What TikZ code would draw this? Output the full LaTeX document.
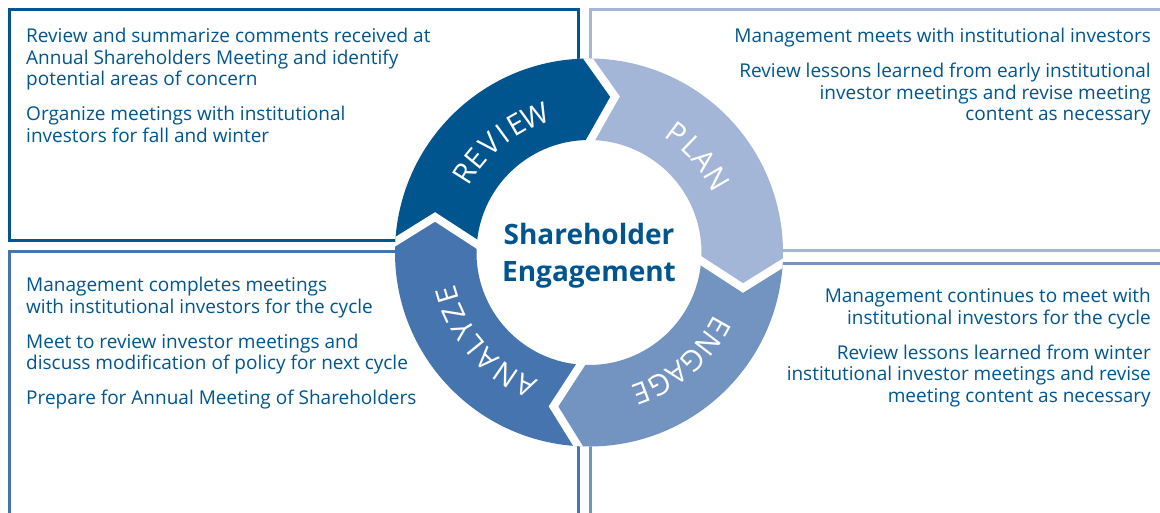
\documentclass[tikz,border=0pt]{standalone}
\usepackage{fontspec}
\setmainfont{Open Sans}

\definecolor{reviewblue}{HTML}{00558F}
\definecolor{planblue}{HTML}{A4B6D7}
\definecolor{engageblue}{HTML}{7393C1}
\definecolor{analyzeblue}{HTML}{4674AF}

\tikzset{
  frame/.style={line width=3pt},
  note/.style={text=reviewblue, font=\fontsize{19}{21.5}\selectfont, inner sep=0pt},
  ringletter/.style={text=white, font=\fontsize{29}{29}\selectfont, inner sep=0pt},
  gapline/.style={white, line width=8pt, line join=miter},
}

% one arrow piece of the ring: colour, start angle, end angle
\newcommand{\ringpart}[3]{%
  \fill[#1] (#2:194) -- (#2-11:158) -- (#2:112.5)
    arc[start angle=#2, end angle=#3, radius=112.5pt]
    -- (#3-11:158) -- (#3:194)
    arc[start angle=#3, end angle=#2, radius=194pt] -- cycle;}

\begin{document}
\begin{tikzpicture}[x=1pt, y=1pt]
    \useasboundingbox (0,0) rectangle (1160,513);

    % Frames
    \draw[frame, reviewblue] (9,503.5) rectangle (578,272.5);
    \draw[frame, analyzeblue] (578,-5) -- (578,261) -- (9,261) -- (9,-5);
    \draw[frame, planblue] (1165,503.5) -- (590,503.5) -- (590,262.5) -- (1165,262.5);
    \draw[frame, engageblue] (1165,249.5) -- (590,249.5) -- (590,-5);

    % Ring
    \begin{scope}[shift={(589,260.5)}]
      \fill[white] (0,0) circle[radius=194pt];
      \ringpart{reviewblue}{178}{91.5}
      \ringpart{planblue}{91.5}{-2}
      \ringpart{engageblue}{-2}{-92}
      \ringpart{analyzeblue}{-92}{-182}
      \begin{scope}
        \clip (0,0) circle[radius=194pt];
        \draw[gapline] (91.5:200) -- (80.5:158) -- (91.5:105);
        \draw[gapline] (-2:200) -- (-13:158) -- (-2:105);
        \draw[gapline] (-92:200) -- (-103:158) -- (-92:105);
        \draw[gapline] (178:200) -- (167:158) -- (178:105);
      \end{scope}

      % Labels on the ring
      \foreach \ltr/\ang [count=\i] in {R/147.5,E/140.5,V/132.6,I/126.2,E/119.8,W/111.3}
        \node[ringletter, rotate=\ang-90] (review\i) at (\ang:147) {\ltr};
      \foreach \ltr/\ang [count=\i] in {P/53.5,L/46,A/38.5,N/30}
        \node[ringletter, rotate=\ang-90] (plan\i) at (\ang:148) {\ltr};
      \foreach \ltr/\ang [count=\i] in {E/-29.5,N/-37.5,G/-45.9,A/-53.8,G/-61.6,E/-69.3}
        \node[ringletter, rotate=\ang-90] (engage\i) at (\ang:150) {\ltr};
      \foreach \ltr/\ang [count=\i] in {A/-115.5,N/-124.5,A/-133.5,L/-141,Y/-148.2,Z/-155.8,E/-163.3}
        \node[ringletter, rotate=\ang-90] (analyze\i) at (\ang:148) {\ltr};
    \end{scope}

    % Centre
    \node[text=reviewblue, font=\bfseries\fontsize{28}{37}\selectfont, align=center,
          inner sep=0pt, anchor=north] (hub) at (589,290) {Shareholder\\Engagement};

    % Notes
    \node[note, anchor=north west, align=left] (reviewtext) at (26,485)
      {Review and summarize comments received at\\
       Annual Shareholders Meeting and identify\\
       potential areas of concern\\[13.5pt]
       Organize meetings with institutional\\
       investors for fall and winter};
    \node[note, anchor=north east, align=right] (plantext) at (1151,485)
      {Management meets with institutional investors\\[13.5pt]
       Review lessons learned from early institutional\\
       investor meetings and revise meeting\\
       content as necessary};
    \node[note, anchor=north west, align=left] (analyzetext) at (26,236)
      {Management completes meetings\\
       with institutional investors for the cycle\\[13.5pt]
       Meet to review investor meetings and\\
       discuss modification of policy for next cycle\\[13pt]
       Prepare for Annual Meeting of Shareholders};
    \node[note, anchor=north east, align=right] (engagetext) at (1151,225)
      {Management continues to meet with\\
       institutional investors for the cycle\\[13.5pt]
       Review lessons learned from winter\\
       institutional investor meetings and revise\\
       meeting content as necessary};
\end{tikzpicture}
\end{document}
